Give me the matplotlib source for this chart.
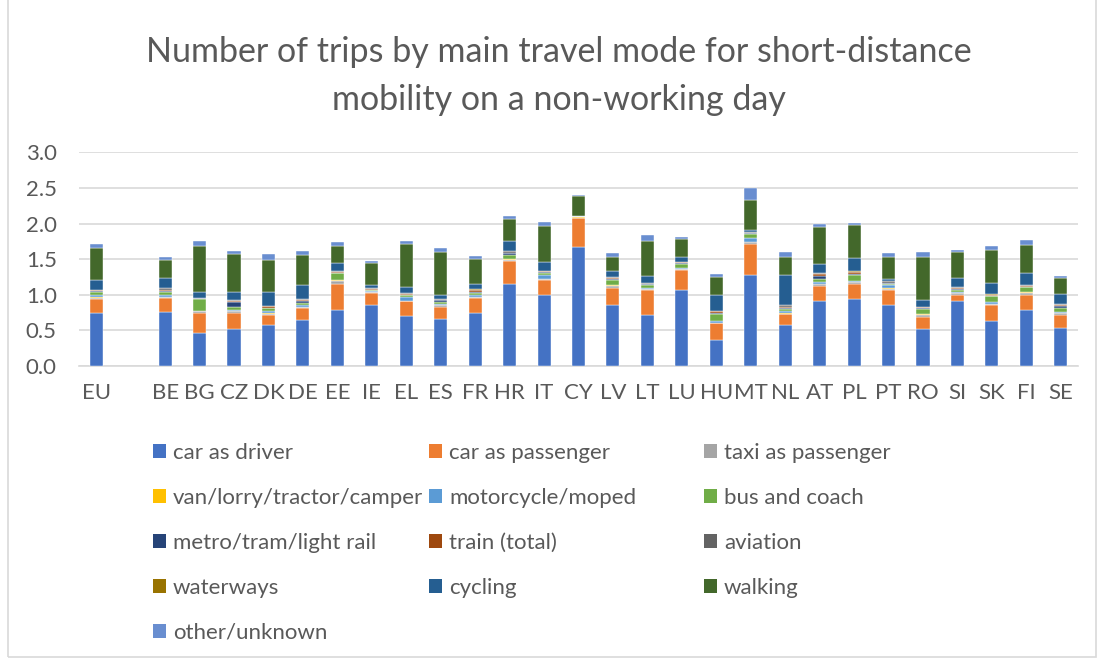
#!/usr/bin/env python3
"""
Number of trips by main travel mode for short-distance mobility (non-working day)
Stacked bar chart, Excel-like styling.
"""

import numpy as np
import matplotlib
matplotlib.use('Agg')
import matplotlib.pyplot as plt
from matplotlib.patches import Patch, Rectangle

# ---- data -------------------------------------------------------------
# the empty label is the gap between EU and the member states (NaN = no bar)
countries = ['EU', '', 'BE', 'BG', 'CZ', 'DK', 'DE', 'EE', 'IE', 'EL', 'ES', 'FR', 'HR', 'IT',
             'CY', 'LV', 'LT', 'LU', 'HU', 'MT', 'NL', 'AT', 'PL', 'PT', 'RO', 'SI', 'SK', 'FI', 'SE']
nan = np.nan

car_driver = [0.74, nan, 0.76, 0.47, 0.52, 0.57, 0.64, 0.79, 0.85, 0.70, 0.66, 0.75, 1.15, 0.99,
              1.67, 0.85, 0.72, 1.07, 0.37, 1.28, 0.57, 0.91, 0.94, 0.86, 0.52, 0.91, 0.63, 0.79, 0.53]
car_passenger = [0.20, nan, 0.20, 0.27, 0.23, 0.15, 0.17, 0.36, 0.17, 0.21, 0.17, 0.21, 0.32, 0.22,
                 0.41, 0.25, 0.34, 0.28, 0.23, 0.43, 0.16, 0.22, 0.21, 0.21, 0.17, 0.09, 0.22, 0.21, 0.19]
taxi = [0.02, nan, 0.01, 0.03, 0.025, 0.015, 0.02, 0.05, 0.02, 0.005, 0.02, 0.005, 0.025, 0.005,
        0.003, 0.03, 0.02, 0.015, 0.005, 0.03, 0.005, 0.015, 0.03, 0.015, 0.03, 0.02, 0.02, 0.03, 0.02]
van = [0.003, nan, 0.003, 0.003, 0.003, 0.003, 0.003, 0.003, 0.003, 0.003, 0.003, 0.003, 0.003, 0.003,
       0.003, 0.003, 0.003, 0.003, 0.003, 0.005, 0.003, 0.003, 0.003, 0.003, 0.003, 0.003, 0.003, 0.003, 0.003]
motorcycle = [0.03, nan, 0.03, 0.005, 0.005, 0.035, 0.025, 0.005, 0.003, 0.05, 0.02, 0.025, 0.005, 0.055,
              0.015, 0.005, 0.005, 0.005, 0.02, 0.05, 0.03, 0.03, 0.005, 0.045, 0.005, 0.02, 0.02, 0.005, 0.02]
bus = [0.04, nan, 0.03, 0.16, 0.045, 0.045, 0.03, 0.095, 0.02, 0.03, 0.03, 0.03, 0.06, 0.03,
       0.003, 0.075, 0.055, 0.065, 0.10, 0.06, 0.035, 0.04, 0.085, 0.025, 0.075, 0.03, 0.085, 0.065, 0.055]
metro = [0.015, nan, 0.02, 0.015, 0.065, 0.003, 0.025, 0.005, 0.005, 0.005, 0.02, 0.02, 0.02, 0.02,
         0.0, 0.005, 0.005, 0.005, 0.02, 0.015, 0.01, 0.045, 0.025, 0.005, 0.01, 0.005, 0.005, 0.005, 0.02]
train = [0.015, nan, 0.02, 0.005, 0.02, 0.02, 0.02, 0.005, 0.01, 0.003, 0.005, 0.02, 0.005, 0.005,
         0.0, 0.02, 0.005, 0.015, 0.02, 0.0, 0.02, 0.025, 0.025, 0.005, 0.01, 0.01, 0.01, 0.02, 0.02]
aviation = [0.005, nan, 0.02, 0.003, 0.01, 0.003, 0.003, 0.02, 0.01, 0.02, 0.01, 0.01, 0.02, 0.01,
            0.002, 0.005, 0.01, 0.003, 0.003, 0.005, 0.02, 0.015, 0.003, 0.025, 0.01, 0.015, 0.01, 0.01, 0.01]
waterways = [0.003, nan, 0.002, 0.0, 0.005, 0.003, 0.002, 0.003, 0.003, 0.003, 0.002, 0.002, 0.005, 0.002,
             0.0, 0.002, 0.002, 0.002, 0.002, 0.01, 0.002, 0.002, 0.002, 0.002, 0.002, 0.002, 0.002, 0.002, 0.002]
cycling = [0.135, nan, 0.14, 0.075, 0.115, 0.195, 0.195, 0.11, 0.045, 0.08, 0.05, 0.07, 0.135, 0.115,
           0.003, 0.09, 0.105, 0.065, 0.22, 0.03, 0.42, 0.13, 0.19, 0.025, 0.09, 0.135, 0.155, 0.17, 0.14]
walking = [0.445, nan, 0.25, 0.65, 0.53, 0.45, 0.43, 0.235, 0.31, 0.605, 0.61, 0.36, 0.32, 0.515,
           0.275, 0.195, 0.485, 0.255, 0.25, 0.42, 0.255, 0.515, 0.46, 0.315, 0.60, 0.365, 0.475, 0.395, 0.22]
other = [0.055, nan, 0.04, 0.065, 0.04, 0.08, 0.05, 0.065, 0.03, 0.04, 0.06, 0.04, 0.035, 0.055,
         0.02, 0.05, 0.09, 0.03, 0.045, 0.165, 0.07, 0.04, 0.035, 0.045, 0.08, 0.03, 0.05, 0.07, 0.035]

series = [
    ('car as driver', car_driver, '#4472C4'),
    ('car as passenger', car_passenger, '#ED7D31'),
    ('taxi as passenger', taxi, '#A5A5A5'),
    ('van/lorry/tractor/camper', van, '#FFC000'),
    ('motorcycle/moped', motorcycle, '#5B9BD5'),
    ('bus and coach', bus, '#70AD47'),
    ('metro/tram/light rail', metro, '#264478'),
    ('train (total)', train, '#9E480E'),
    ('aviation', aviation, '#636363'),
    ('waterways', waterways, '#997300'),
    ('cycling', cycling, '#255E91'),
    ('walking', walking, '#43682B'),
    ('other/unknown', other, '#698ED0'),
]

TEXT = '#595959'
GRID = '#D9D9D9'
FONT = ['Lato', 'DejaVu Sans']
FS = 16

plt.rcParams['font.family'] = FONT

fig = plt.figure(figsize=(10.99, 6.6), dpi=100)
ax = fig.add_axes([79 / 1099, 1 - 366 / 660, (1078 - 79) / 1099, (366 - 152.3) / 660])

x = np.arange(len(countries))
bottom = np.zeros(len(countries))
handles = []
for name, vals, color in series:
    vals = np.array(vals, dtype=float)
    ax.bar(x, vals, bottom=bottom, width=0.38, color=color, edgecolor='white',
           linewidth=0.3, zorder=3)
    bottom += np.nan_to_num(vals)
    handles.append(Patch(facecolor=color, edgecolor='none', label=name))

ax.set_xlim(-0.5, len(countries) - 0.5)
ax.set_ylim(0, 3.0)
yt = np.arange(0, 3.01, 0.5)
ax.set_yticks(yt)
ax.set_yticklabels([f'{v:.1f}' for v in yt])
ax.set_xticks(x)
ax.set_xticklabels(countries)
ax.yaxis.grid(True, color=GRID, linewidth=1.2, zorder=0)
for s in ['top', 'right', 'left']:
    ax.spines[s].set_visible(False)
ax.spines['bottom'].set_color(GRID)
ax.spines['bottom'].set_linewidth(1.2)
ax.tick_params(axis='both', length=0, labelsize=FS, colors=TEXT)
ax.tick_params(axis='x', pad=12)
ax.tick_params(axis='y', pad=16)

# title, two lines
fig.text(559 / 1099, 1 - 52 / 660, 'Number of trips by main travel mode for short-distance',
         ha='center', va='center', fontsize=24.5, color=TEXT)
fig.text(559 / 1099, 1 - 100 / 660, 'mobility on a non-working day',
         ha='center', va='center', fontsize=24.5, color=TEXT)

# legend: three columns, row-major order as in the original
col_x = [153, 429, 704]
for c in range(3):
    hs = handles[c::3]
    fig.legend(handles=hs, loc='upper left',
               bbox_to_anchor=(col_x[c] / 1099, 1 - 443 / 660),
               frameon=False, fontsize=FS, labelcolor=TEXT,
               handlelength=0.6, handleheight=0.6, handletextpad=0.3,
               labelspacing=1.12, borderpad=0, borderaxespad=0)

# chart border
fig.patches.append(Rectangle((8 / 1099, 3 / 660), 1088 / 1099, 1.0, transform=fig.transFigure,
                             fill=False, edgecolor=GRID, linewidth=1.2))

fig.savefig('out.png', dpi=100)
